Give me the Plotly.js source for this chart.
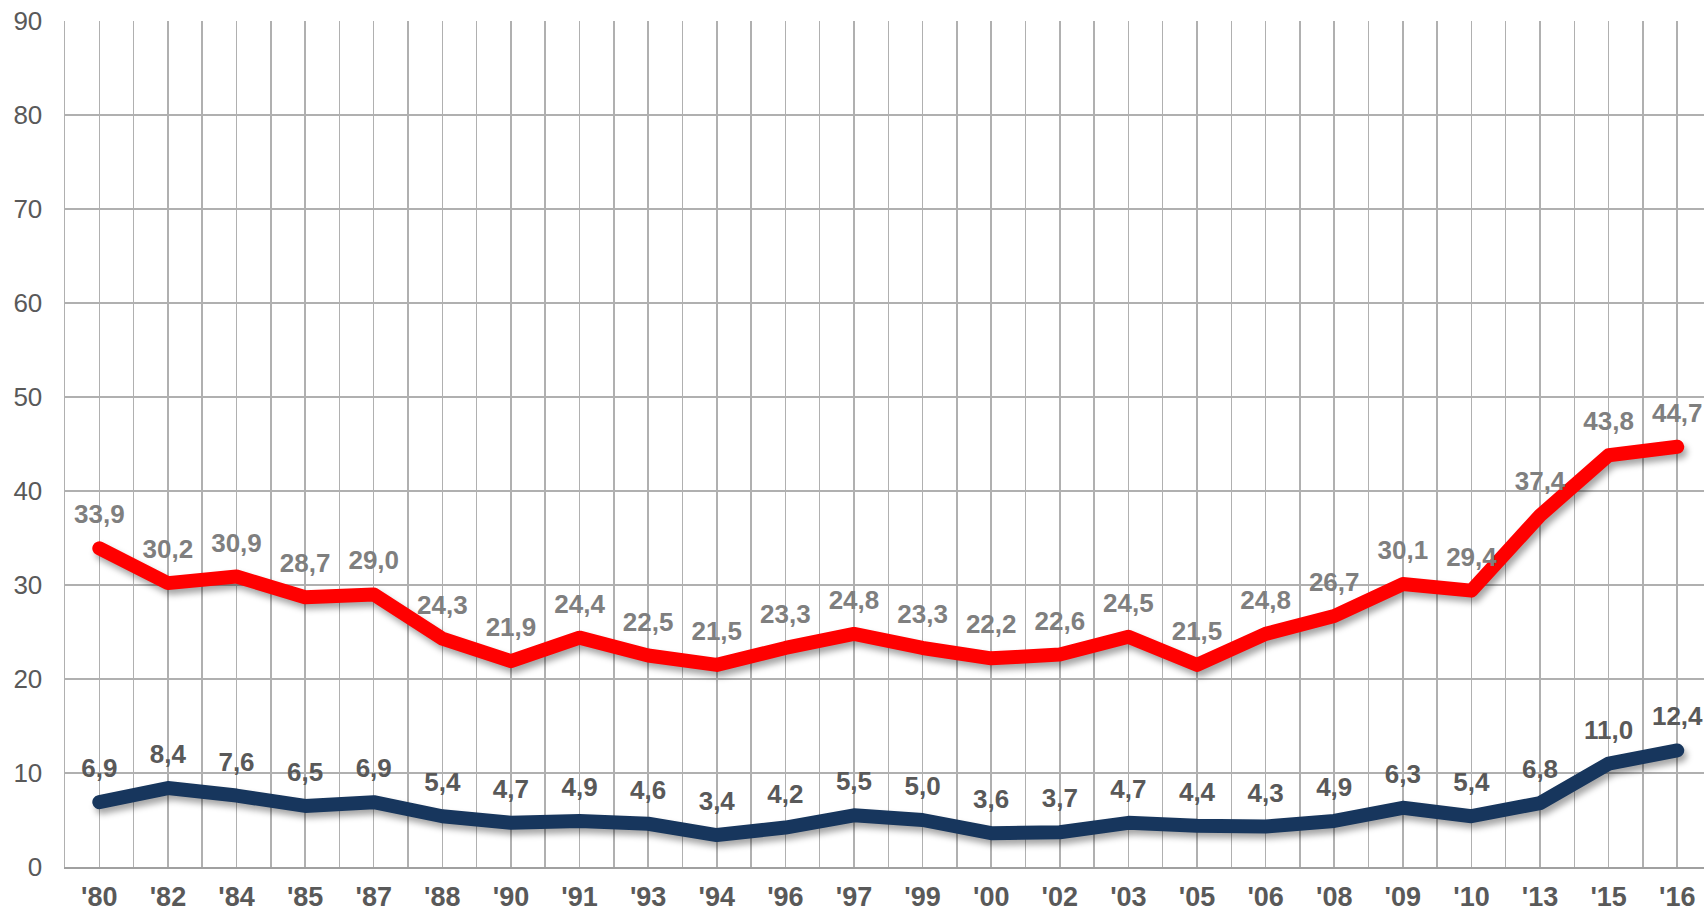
<!DOCTYPE html>
<html>
<head>
<meta charset="utf-8">
<script src="https://cdn.plot.ly/plotly-3.0.1.min.js"></script>
<style>
  html, body { margin: 0; padding: 0; background: #ffffff; }
  #chart { width: 1704px; height: 914px; }
  .scatterlayer .js-line { stroke-linecap: round; stroke-linejoin: round; filter: drop-shadow(3px 5px 3px rgba(0,0,0,0.35)); }
</style>
</head>
<body>
<div id="chart"></div>
<script>
const years = ["'80","'82","'84","'85","'87","'88","'90","'91","'93","'94","'96","'97","'99","'00","'02","'03","'05","'06","'08","'09","'10","'13","'15","'16"];
const redValues = [33.9,30.2,30.9,28.7,29.0,24.3,21.9,24.4,22.5,21.5,23.3,24.8,23.3,22.2,22.6,24.5,21.5,24.8,26.7,30.1,29.4,37.4,43.8,44.7];
const blueValues = [6.9,8.4,7.6,6.5,6.9,5.4,4.7,4.9,4.6,3.4,4.2,5.5,5.0,3.6,3.7,4.7,4.4,4.3,4.9,6.3,5.4,6.8,11.0,12.4];
const yTicks = [0,10,20,30,40,50,60,70,80,90];

const idx = years.map((_, i) => i);

function series(values, color, labelColor) {
  return {
    x: idx, y: values, type: 'scatter', mode: 'lines+markers+text',
    line: { color: color, width: 14 },
    marker: { size: 28, color: color, opacity: 0 },
    texttemplate: '%{y:.1f}', textposition: 'top center',
    textfont: { family: 'Liberation Sans, Arial, sans-serif', size: 26, color: labelColor, weight: 'bold' },
    hoverinfo: 'skip', showlegend: false, cliponaxis: false
  };
}

const data = [
  series(redValues, '#FF0000', '#7F7F7F'),
  series(blueValues, '#17365D', '#595959')
];

const layout = {
  width: 1704, height: 914,
  margin: { l: 65, r: 0, t: 21, b: 47 },
  paper_bgcolor: '#ffffff', plot_bgcolor: '#ffffff',
  separators: ',.',
  showlegend: false,
  xaxis: {
    range: [-0.5, 23.39], tickmode: 'array', tickvals: idx, ticktext: years,
    showgrid: true, gridcolor: '#B0B0B0', gridwidth: 1.5,
    minor: { tickmode: 'linear', tick0: -0.5, dtick: 1, showgrid: true, gridcolor: '#B0B0B0', gridwidth: 1.5 },
    zeroline: false, showline: true, linecolor: '#A0A0A0', linewidth: 1.5,
    ticks: '', ticklabelstandoff: 5,
    tickfont: { family: 'Liberation Sans, Arial, sans-serif', size: 27, color: '#595959', weight: 'bold' },
    fixedrange: true
  },
  yaxis: {
    range: [0, 90], tickmode: 'array', tickvals: yTicks,
    showgrid: true, gridcolor: '#B0B0B0', gridwidth: 1.5,
    zeroline: false, showline: true, linecolor: '#B0B0B0', linewidth: 1.5,
    ticks: '', ticklabelstandoff: 16,
    tickfont: { family: 'Liberation Sans, Arial, sans-serif', size: 26, color: '#595959' },
    fixedrange: true
  }
};

Plotly.newPlot('chart', data, layout, { displayModeBar: false, staticPlot: true });
</script>
</body>
</html>
